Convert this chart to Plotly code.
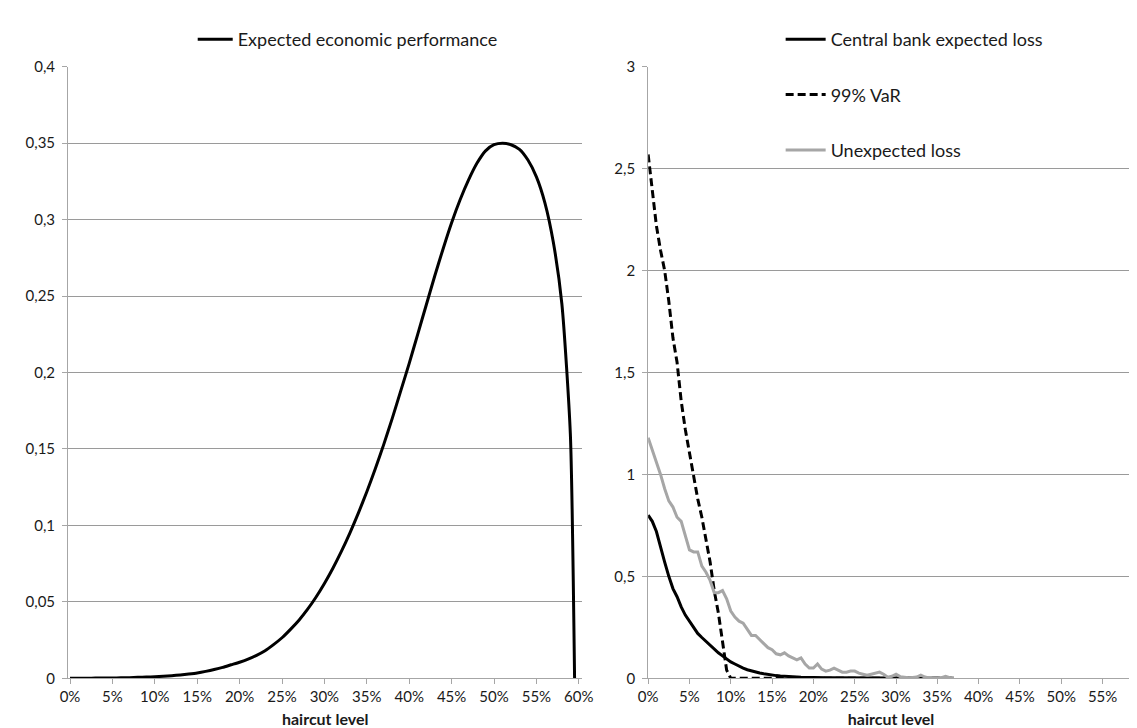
import plotly.graph_objects as go

# ---------------- data ----------------
# Left panel: expected economic performance vs haircut level
haircut_left = [0.00, 0.01, 0.02, 0.03, 0.04, 0.05, 0.06, 0.07, 0.08, 0.09,
                0.10, 0.11, 0.12, 0.13, 0.14, 0.15, 0.16, 0.17, 0.18, 0.19,
                0.20, 0.21, 0.22, 0.23, 0.24, 0.25, 0.26, 0.27, 0.28, 0.29,
                0.30, 0.31, 0.32, 0.33, 0.34, 0.35, 0.36, 0.37, 0.38, 0.39,
                0.40, 0.41, 0.42, 0.43, 0.44, 0.45, 0.46, 0.47, 0.48, 0.49,
                0.50, 0.51, 0.52, 0.53, 0.54, 0.55, 0.56, 0.57, 0.58, 0.59,
                0.595]
econ_performance = [0.0, 0.00002, 0.00005, 0.0001, 0.00015, 0.0002, 0.0003, 0.0004, 0.0006, 0.0008,
                    0.001, 0.0013, 0.0017, 0.0022, 0.0028, 0.0035, 0.0045, 0.0057, 0.0071, 0.0088,
                    0.0105, 0.0125, 0.015, 0.018, 0.022, 0.0265, 0.032, 0.038, 0.045, 0.053,
                    0.062, 0.072, 0.083, 0.095, 0.108, 0.122, 0.137, 0.153, 0.170, 0.188,
                    0.206, 0.225, 0.244, 0.263, 0.281, 0.298, 0.313, 0.326, 0.337, 0.345,
                    0.349, 0.350, 0.349, 0.346, 0.339, 0.328, 0.311, 0.285, 0.245, 0.16,
                    0.0]

# Right panel: losses vs haircut level
haircut_right = [0.000, 0.005, 0.010, 0.015, 0.020, 0.025, 0.030, 0.035, 0.040, 0.045,
                 0.050, 0.055, 0.060, 0.065, 0.070, 0.075, 0.080, 0.085, 0.090, 0.095,
                 0.100, 0.105, 0.110, 0.115, 0.120, 0.125, 0.130, 0.135, 0.140, 0.145,
                 0.150, 0.155, 0.160, 0.165, 0.170, 0.175, 0.180, 0.185, 0.190, 0.195,
                 0.200, 0.205, 0.210, 0.215, 0.220, 0.225, 0.230, 0.235, 0.240, 0.245,
                 0.250, 0.255, 0.260, 0.265, 0.270, 0.275, 0.280, 0.285, 0.290, 0.295,
                 0.300, 0.305, 0.310, 0.315, 0.320, 0.325, 0.330, 0.335, 0.340, 0.345,
                 0.350, 0.355, 0.360, 0.365, 0.370]
expected_loss = [0.80, 0.77, 0.72, 0.64, 0.57, 0.50, 0.44, 0.40, 0.35, 0.31,
                 0.28, 0.25, 0.22, 0.20, 0.18, 0.16, 0.14, 0.125, 0.11, 0.095,
                 0.08, 0.07, 0.058, 0.05, 0.042, 0.036, 0.03, 0.026, 0.022, 0.018,
                 0.015, 0.013, 0.011, 0.009, 0.008, 0.007, 0.006, 0.005, 0.004, 0.0035,
                 0.003, 0.0028, 0.0025, 0.0022, 0.002, 0.0018, 0.0016, 0.0014, 0.0012, 0.0011,
                 0.001, 0.0009, 0.0008, 0.0007, 0.0006, 0.0005, 0.0005, 0.0004, 0.0003, 0.0003,
                 0.0002, 0.0002, 0.0002, 0.0001, 0.0001, 0.0001, 0.0001, 0.0001, 0.0, 0.0,
                 0.0, 0.0, 0.0, 0.0, 0.0]
var_99 = [2.57, 2.40, 2.22, 2.10, 2.00, 1.85, 1.67, 1.55, 1.36, 1.22,
          1.10, 1.00, 0.88, 0.79, 0.68, 0.57, 0.43, 0.32, 0.18, 0.04,
          0.0, 0.0, 0.0, 0.0, 0.0, 0.0, 0.0, 0.0, 0.0, 0.0,
          0.0, 0.0, 0.0, 0.0, 0.0, 0.0, 0.0, 0.0, 0.0, 0.0,
          0.0, 0.0, 0.0, 0.0, 0.0, 0.0, 0.0, 0.0, 0.0, 0.0,
          0.0, 0.0, 0.0, 0.0, 0.0, 0.0, 0.0, 0.0, 0.0, 0.0,
          0.0, 0.0, 0.0, 0.0, 0.0, 0.0, 0.0, 0.0, 0.0, 0.0,
          0.0, 0.0, 0.0, 0.0, 0.0]
unexpected_loss = [1.18, 1.12, 1.07, 1.00, 0.93, 0.87, 0.84, 0.79, 0.77, 0.70,
                   0.63, 0.62, 0.62, 0.55, 0.52, 0.48, 0.42, 0.42, 0.43, 0.39,
                   0.33, 0.30, 0.28, 0.27, 0.24, 0.21, 0.21, 0.19, 0.17, 0.15,
                   0.14, 0.12, 0.115, 0.125, 0.11, 0.10, 0.09, 0.10, 0.07, 0.05,
                   0.05, 0.07, 0.045, 0.035, 0.04, 0.05, 0.04, 0.03, 0.03, 0.035,
                   0.035, 0.025, 0.02, 0.015, 0.02, 0.025, 0.03, 0.02, 0.005, 0.01,
                   0.02, 0.008, 0.004, 0.002, 0.004, 0.006, 0.015, 0.006, 0.002, 0.0,
                   0.0, 0.003, 0.01, 0.003, 0.0]

x_tick_vals = [0.00, 0.05, 0.10, 0.15, 0.20, 0.25, 0.30, 0.35, 0.40, 0.45, 0.50, 0.55, 0.60]
x_tick_text = ["0%", "5%", "10%", "15%", "20%", "25%", "30%", "35%", "40%", "45%", "50%", "55%", "60%"]
y1_tick_vals = [0, 0.05, 0.10, 0.15, 0.20, 0.25, 0.30, 0.35, 0.40]
y1_tick_text = ["0", "0,05", "0,1", "0,15", "0,2", "0,25", "0,3", "0,35", "0,4"]
y2_tick_vals = [0, 0.5, 1.0, 1.5, 2.0, 2.5, 3.0]
y2_tick_text = ["0", "0,5", "1", "1,5", "2", "2,5", "3"]

# ---------------- figure ----------------
W, H = 1137, 728
FONT = "Lato, 'Open Sans', sans-serif"
GRID = "#9a9a9a"
AXIS = "#a6a6a6"
TXT = "#1a1a1a"

fig = go.Figure()

fig.add_trace(go.Scatter(
    x=haircut_left, y=econ_performance, mode="lines",
    name="Expected economic performance",
    line=dict(color="black", width=3, shape="spline", smoothing=0.6),
    xaxis="x", yaxis="y", legend="legend",
))

fig.add_trace(go.Scatter(
    x=haircut_right, y=expected_loss, mode="lines",
    name="Central bank expected loss",
    line=dict(color="black", width=3),
    xaxis="x2", yaxis="y2", legend="legend2", legendgroup="a",
))
fig.add_trace(go.Scatter(
    x=haircut_right, y=var_99, mode="lines",
    name="99% VaR",
    line=dict(color="black", width=3, dash="8px,4px"),
    xaxis="x2", yaxis="y2", legend="legend2", legendgroup="b",
))
fig.add_trace(go.Scatter(
    x=haircut_right, y=unexpected_loss, mode="lines",
    name="Unexpected loss",
    line=dict(color="#a6a6a6", width=3),
    xaxis="x2", yaxis="y2", legend="legend2", legendgroup="c",
))

def px_x(p):
    return p / W

def px_y(p):
    return 1 - p / H

y_dom = [px_y(677), px_y(50)]

axis_common = dict(
    showgrid=False, showline=True, linecolor=AXIS, linewidth=1,
    ticks="outside", ticklen=5, tickcolor=AXIS, tickwidth=1,
    tickfont=dict(family=FONT, size=15, color=TXT),
    zeroline=False, fixedrange=True,
)
title_font = dict(family=FONT, size=16, color=TXT)

fig.update_layout(
    width=W, height=H,
    margin=dict(l=0, r=0, t=0, b=0),
    paper_bgcolor="white", plot_bgcolor="white",
    showlegend=True,
    xaxis=dict(axis_common, domain=[px_x(51), px_x(575)], range=[-0.0023, 0.6042],
               tickvals=x_tick_vals, ticktext=x_tick_text, anchor="y",
               title=dict(text="<b>haircut level</b>", font=title_font, standoff=9)),
    yaxis=dict(axis_common, domain=y_dom, range=[0, 0.4], anchor="x",
               tickvals=y1_tick_vals, ticktext=y1_tick_text, ticklabelstandoff=4,
               showgrid=True, gridcolor=GRID, gridwidth=1),
    xaxis2=dict(axis_common, domain=[px_x(642), 1.0], range=[0, 0.588],
                tickvals=x_tick_vals, ticktext=x_tick_text, anchor="y2",
                title=dict(text="<b>haircut level</b>", font=title_font, standoff=9)),
    yaxis2=dict(axis_common, domain=y_dom, range=[0, 3], anchor="x2",
                tickvals=y2_tick_vals, ticktext=y2_tick_text, ticklabelstandoff=4,
                showgrid=True, gridcolor=GRID, gridwidth=1),
    legend=dict(x=px_x(178), y=px_y(3), xanchor="left", yanchor="top",
                bgcolor="rgba(0,0,0,0)", borderwidth=0, itemwidth=35,
                font=dict(family=FONT, size=18, color=TXT)),
    legend2=dict(x=px_x(777), y=px_y(3), xanchor="left", yanchor="top",
                 bgcolor="rgba(0,0,0,0)", borderwidth=0, traceorder="grouped",
                 tracegroupgap=29, itemwidth=40,
                 font=dict(family=FONT, size=18, color=TXT)),
)

fig.write_html("out.html")
